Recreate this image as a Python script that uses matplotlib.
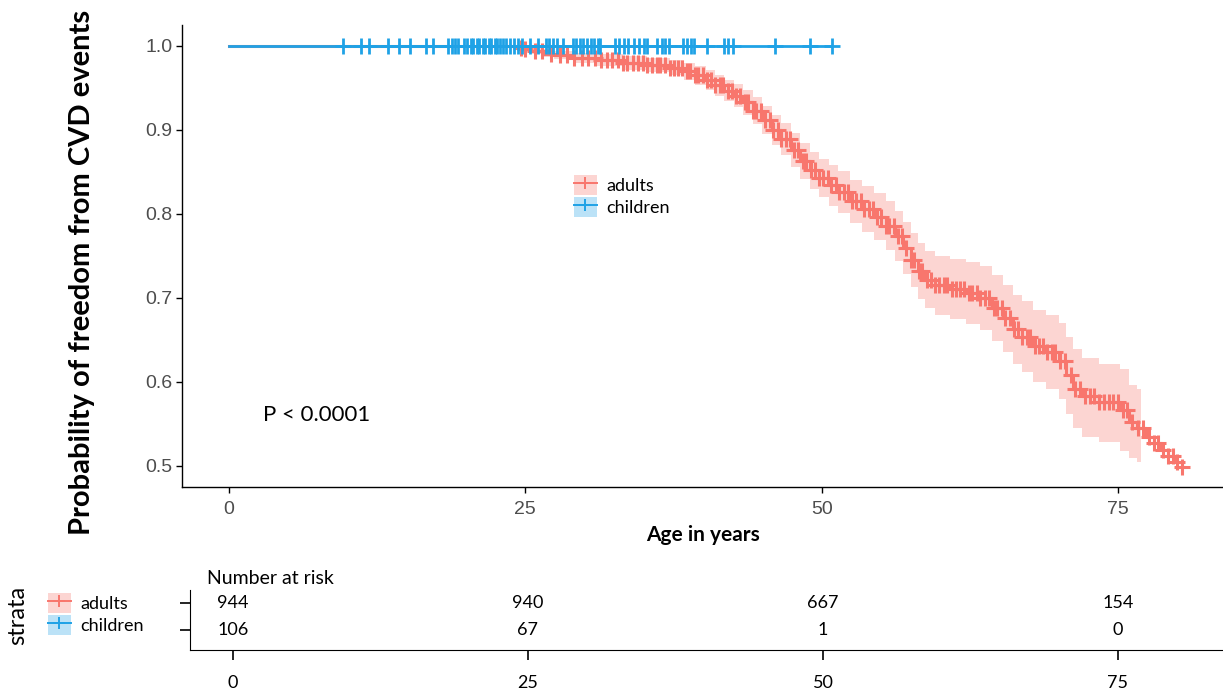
import numpy as np
import matplotlib.pyplot as plt
from matplotlib.patches import Patch
from matplotlib.lines import Line2D
from matplotlib.legend_handler import HandlerTuple

# adults Kaplan-Meier steps (age, survival) and 95% CI
adult_t = [0, 24.3, 24.8, 25.5, 26.5, 27.4, 29.0, 31.0, 33.2, 35.3, 37.2, 38.4, 39.3,
           40.2, 41.0, 41.8, 42.6, 43.4, 44.2, 45.0, 45.8, 46.6, 47.4, 48.2, 49.0,
           49.8, 50.6, 51.4, 52.4, 53.4, 54.4, 55.4, 56.2, 56.9, 57.5, 58.1, 58.7,
           59.6, 60.8, 62.2, 63.4, 64.4, 65.3, 66.1, 66.9, 67.8, 68.9, 70.0, 70.6,
           71.2, 72.0, 73.4, 75.2, 75.9, 76.6, 77.4, 78.0, 78.6, 79.2, 79.8, 80.4]
adult_s = [1.0, 0.998, 0.996, 0.994, 0.991, 0.989, 0.986, 0.983, 0.980, 0.977, 0.974,
           0.970, 0.965, 0.960, 0.953, 0.947, 0.941, 0.933, 0.923, 0.912, 0.900,
           0.889, 0.876, 0.863, 0.852, 0.843, 0.834, 0.826, 0.815, 0.806, 0.797,
           0.786, 0.774, 0.760, 0.745, 0.732, 0.722, 0.715, 0.711, 0.706, 0.700,
           0.688, 0.676, 0.663, 0.654, 0.643, 0.636, 0.625, 0.608, 0.592, 0.583,
           0.576, 0.567, 0.552, 0.545, 0.535, 0.527, 0.519, 0.512, 0.505, 0.499]
adult_lo = [1.0, 0.996, 0.993, 0.990, 0.987, 0.984, 0.980, 0.976, 0.972, 0.969, 0.965,
            0.960, 0.954, 0.948, 0.941, 0.934, 0.927, 0.918, 0.907, 0.895, 0.882,
            0.870, 0.856, 0.842, 0.830, 0.820, 0.810, 0.801, 0.789, 0.779, 0.769,
            0.757, 0.744, 0.729, 0.713, 0.699, 0.688, 0.680, 0.675, 0.669, 0.662,
            0.649, 0.636, 0.622, 0.612, 0.600, 0.592, 0.580, 0.562, 0.545, 0.534,
            0.528, 0.518, 0.510, 0.505]
adult_hi = [1.0, 1.0, 0.999, 0.998, 0.996, 0.994, 0.992, 0.990, 0.988, 0.986, 0.983,
            0.980, 0.976, 0.972, 0.966, 0.960, 0.955, 0.948, 0.939, 0.929, 0.918,
            0.908, 0.896, 0.884, 0.874, 0.866, 0.858, 0.851, 0.841, 0.833, 0.825,
            0.815, 0.804, 0.791, 0.777, 0.765, 0.756, 0.750, 0.747, 0.743, 0.738,
            0.727, 0.716, 0.704, 0.696, 0.686, 0.680, 0.670, 0.654, 0.639, 0.628,
            0.622, 0.615, 0.596, 0.592]
ci_end = 76.9

adult_cens = [24.6, 25.0, 25.8, 26.4, 27.2, 27.9, 28.5, 29.1, 29.8, 30.3, 30.9, 31.4,
              31.9, 32.3, 32.8, 33.2, 33.6, 34.1, 34.5, 34.9, 35.3, 35.7, 36.1, 36.4,
              36.8, 37.2, 37.5, 37.9, 38.2, 38.6, 38.9, 39.3, 39.6, 40.0, 40.3, 40.7,
              41.0, 41.4, 41.7, 42.1, 42.4, 42.8, 43.1, 43.5, 43.8, 44.2, 44.5, 44.9,
              45.2, 45.6, 45.9, 46.3, 46.6, 47.0, 47.3, 47.7, 48.0, 48.4, 48.7, 49.1,
              49.4, 49.8, 50.1, 50.5, 50.8, 51.2, 51.5, 51.9, 52.2, 52.6, 52.9, 53.3,
              53.6, 54.0, 54.3, 54.7, 55.0, 55.4, 55.7, 56.1, 56.4, 56.8, 57.1, 57.5,
              57.8, 58.2, 58.5, 58.9, 59.2, 59.6, 59.9, 60.3, 60.6, 61.0, 61.3, 61.7,
              62.0, 62.4, 62.7, 63.1, 63.4, 63.8, 64.1, 64.5, 64.8, 65.2, 65.5, 65.9,
              66.2, 66.6, 66.9, 67.3, 67.6, 68.0, 68.3, 68.7, 69.0, 69.4, 69.7, 70.1,
              70.5, 71.0, 71.4, 71.8, 72.2, 72.6, 73.0, 73.4, 73.8, 74.2, 74.6, 75.0,
              75.4, 75.8, 76.2, 76.7, 77.1, 77.6, 78.0, 78.4, 78.8, 79.2, 79.6, 80.0,
              80.4]

child_t = [0, 50.9]
child_s = [1.0, 1.0]
child_cens = [9.6, 11.1, 11.8, 13.4, 14.3, 15.3, 16.6, 17.2, 18.5, 18.8, 19.1, 19.3,
              19.8, 20.1, 20.4, 20.6, 20.9, 21.1, 21.4, 21.6, 21.9, 22.1, 22.4, 22.6,
              22.9, 23.1, 23.4, 23.7, 24.0, 24.4, 24.7, 25.4, 26.1, 26.7, 27.0, 27.3,
              27.7, 28.2, 29.0, 29.3, 29.6, 29.9, 30.2, 30.5, 30.8, 31.1, 31.3, 32.6,
              32.9, 33.3, 33.7, 34.2, 34.6, 35.0, 35.3, 36.1, 36.5, 36.8, 37.1, 38.3,
              38.6, 39.0, 39.2, 40.3, 41.8, 42.1, 42.5, 46.1, 49.0, 50.9]

strata = ["adults", "children"]
risk_times = [0, 25, 50, 75]
risk_adults = [944, 940, 667, 154]
risk_children = [106, 67, 1, 0]

RED = "#F8766D"
BLUE = "#1FA2E6"
FONT = "Lato"
W, H = 1223, 691

fig = plt.figure(figsize=(W / 100, H / 100), dpi=100)
ax = fig.add_axes([182 / W, 1 - 487 / H, (W - 182) / W, (487 - 25) / H])

# confidence band
at = np.array(adult_t)
ci_t = np.append(at[:len(adult_lo)], ci_end)
lo = np.append(adult_lo, adult_lo[-1])
hi = np.append(adult_hi, adult_hi[-1])
ax.fill_between(ci_t, lo, hi, step="post", color=RED, alpha=0.3, lw=0)

# adults curve + censor marks
at_ext = np.append(at, 80.6)
as_ext = np.append(adult_s, adult_s[-1])
ax.step(at_ext, as_ext, where="post", color=RED, lw=2.2)
idx = np.searchsorted(at, adult_cens, side="right") - 1
ax.plot(adult_cens, np.array(adult_s)[idx], ls="none", marker="+", ms=11, mew=2.2, color=RED)

# children
ax.step(child_t, child_s, where="post", color=BLUE, lw=2, zorder=4)
ax.plot(child_cens, np.ones(len(child_cens)), ls="none", marker="+", ms=11, mew=2,
        color=BLUE, zorder=4)

ax.set_xlim(-3.97, 83.86)
ax.set_ylim(0.475, 1.025)
ax.set_xticks(risk_times)
ax.set_yticks([0.5, 0.6, 0.7, 0.8, 0.9, 1.0])
ax.set_yticklabels(["0.5", "0.6", "0.7", "0.8", "0.9", "1.0"])
for s in ["top", "right"]:
    ax.spines[s].set_visible(False)
for s in ["left", "bottom"]:
    ax.spines[s].set_linewidth(1.0)
ax.tick_params(length=4, width=1, colors="black", labelcolor="#4D4D4D",
               labelsize=14, pad=3)
ax.tick_params(axis="x", pad=6)
for lab in ax.get_xticklabels() + ax.get_yticklabels():
    lab.set_family("Liberation Sans")

ax.set_xlabel("Age in years", fontsize=15, fontweight="bold", family=FONT, labelpad=5)
fig.text(82 / W, 1 - 272 / H, "Probability of freedom from CVD events", rotation=90,
         ha="center", va="center", fontsize=21, fontweight="bold", family=FONT)
ax.text(2.9, 0.561, "P < 0.0001", fontsize=16, family=FONT, va="center")

handles = [(Patch(facecolor=RED, alpha=0.3, lw=0),
            Line2D([], [], color=RED, marker="+", ms=9, mew=1.4, lw=1.4)),
           (Patch(facecolor=BLUE, alpha=0.3, lw=0),
            Line2D([], [], color=BLUE, marker="+", ms=9, mew=1.4, lw=1.4))]
hmap = {tuple: HandlerTuple(ndivide=1, pad=0)}
ax.legend(handles, strata, handler_map=hmap,
          loc="upper left", bbox_to_anchor=(574 / W, 1 - 175 / H),
          bbox_transform=fig.transFigure, frameon=False,
          prop={"family": FONT, "size": 13}, handlelength=1.25, handleheight=1.35,
          handletextpad=0.55, labelspacing=0.1, borderpad=0, borderaxespad=0)

# risk table
rt = fig.add_axes([190 / W, 1 - 650 / H, (W - 190) / W, 60 / H])
rt.set_xlim(-3.64, 83.9)
rt.set_ylim(0.26, 2.48)
for t, a, c in zip(risk_times, risk_adults, risk_children):
    rt.text(t, 2, str(a), ha="center", va="center", fontsize=13, family=FONT)
    rt.text(t, 1, str(c), ha="center", va="center", fontsize=13, family=FONT)
rt.set_xticks(risk_times)
rt.set_yticks([1, 2])
rt.set_yticklabels([])
for s in ["top", "right"]:
    rt.spines[s].set_visible(False)
rt.tick_params(axis="x", length=7, width=1.2, labelsize=13, pad=11)
rt.tick_params(axis="y", length=7, width=1.2)
for lab in rt.get_xticklabels():
    lab.set_family(FONT)
fig.text(207 / W, 1 - 578 / H, "Number at risk", fontsize=14, family=FONT, va="center")
fig.text(18 / W, 1 - 615 / H, "strata", rotation=90, fontsize=17, family=FONT,
         ha="center", va="center")
fig.legend(handles, strata, handler_map=hmap,
           loc="upper left", bbox_to_anchor=(48 / W, 1 - 593 / H), frameon=False,
           prop={"family": FONT, "size": 13}, handlelength=1.25, handleheight=1.35,
           handletextpad=0.55, labelspacing=0.1, borderpad=0, borderaxespad=0)

fig.savefig("out.png", dpi=100)
